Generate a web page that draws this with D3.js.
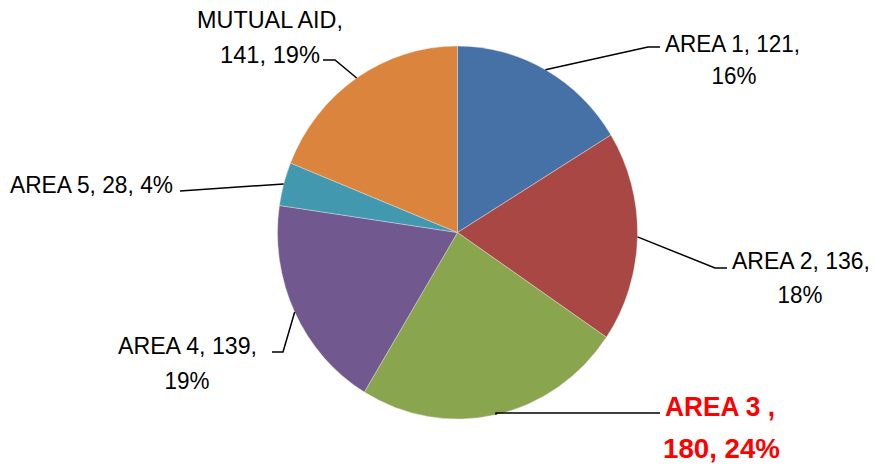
<!DOCTYPE html>
<html><head><meta charset="utf-8">
<script src="https://cdn.jsdelivr.net/npm/d3@7"></script>
<style>html,body{margin:0;padding:0;background:#fff;}svg{display:block;}</style>
</head><body>
<svg id="c" width="874" height="467"></svg>
<script>
const categories = ["AREA 1", "AREA 2", "AREA 3", "AREA 4", "AREA 5", "MUTUAL AID"];
const values = [121, 136, 180, 139, 28, 141];
const colors = ["#4571A7", "#A94744", "#89A54E", "#71588F", "#4198AF", "#DB843D"];

// label layout: elbow point, end point of leader, text lines [text, x, baseline, anchor, width]
const labelLayout = [
  {elbow:[648,47], end:[660,47], lines:[[0,665,52,"start",135],[1,734,84,"middle",45]], split:2},
  {elbow:[715,268], end:[727,268], lines:[[0,732,269,"start",138],[1,800,303,"middle",45]], split:2},
  {elbow:[496,413], end:[660,413], lines:[[0,665,416,"start",110],[1,663,458,"start",117]], split:1, highlight:true},
  {elbow:[283,352], end:[272,352], lines:[[0,257,354,"end",139],[1,187,389,"middle",45]], split:2},
  {elbow:[180,191], end:[180,191], lines:[[0,10,193,"start",163]], split:0},
  {elbow:[335,60], end:[323,60], lines:[[0,270,28,"middle",146],[1,320,63,"end",100]], split:1}
];

const W = 874, H = 467;
const cx = 457.5, cy = 232.5, r = 180, sy = 186.5 / 180;
const total = d3.sum(values);
const svg = d3.select("#c");

const pie = d3.pie().sort(null).value(d => d)(values);
const arc = d3.arc().innerRadius(0).outerRadius(r);

const g = svg.append("g").attr("transform", `translate(${cx},${cy}) scale(1,${sy})`);
g.selectAll("path").data(pie).join("path")
  .attr("d", arc)
  .attr("fill", (d, i) => colors[i])
  .attr("stroke", "#e8e8e8")
  .attr("stroke-width", 0.4);

function labelParts(i) {
  const pct = Math.round(values[i] / total * 100) + "%";
  const L = labelLayout[i];
  if (L.split === 2) return [`${categories[i]}, ${values[i]},`, pct];
  if (L.split === 1 && L.highlight) return [`${categories[i]} ,`, `${values[i]}, ${pct}`];
  if (L.split === 1) return [`${categories[i]},`, `${values[i]}, ${pct}`];
  return [`${categories[i]}, ${values[i]}, ${pct}`];
}

pie.forEach((d, i) => {
  const L = labelLayout[i];
  const a = (d.startAngle + d.endAngle) / 2;
  const px = cx + r * Math.sin(a), py = cy - r * sy * Math.cos(a);
  svg.append("path")
    .attr("d", d3.line()([[px, py], L.elbow, L.end]))
    .attr("fill", "none").attr("stroke", "#000").attr("stroke-width", 1.5);
  const parts = labelParts(i);
  L.lines.forEach(([k, x, y, anchor, w]) => {
    svg.append("text")
      .attr("x", x).attr("y", y)
      .attr("text-anchor", anchor)
      .attr("font-family", "Liberation Sans, Arial, sans-serif")
      .attr("font-size", L.highlight ? 28 : 23.5)
      .attr("font-weight", L.highlight ? "bold" : "normal")
      .attr("fill", L.highlight ? "#FF0000" : "#000")
      .attr("textLength", w)
      .attr("lengthAdjust", "spacingAndGlyphs")
      .text(parts[k]);
  });
});
</script>
</body></html>
